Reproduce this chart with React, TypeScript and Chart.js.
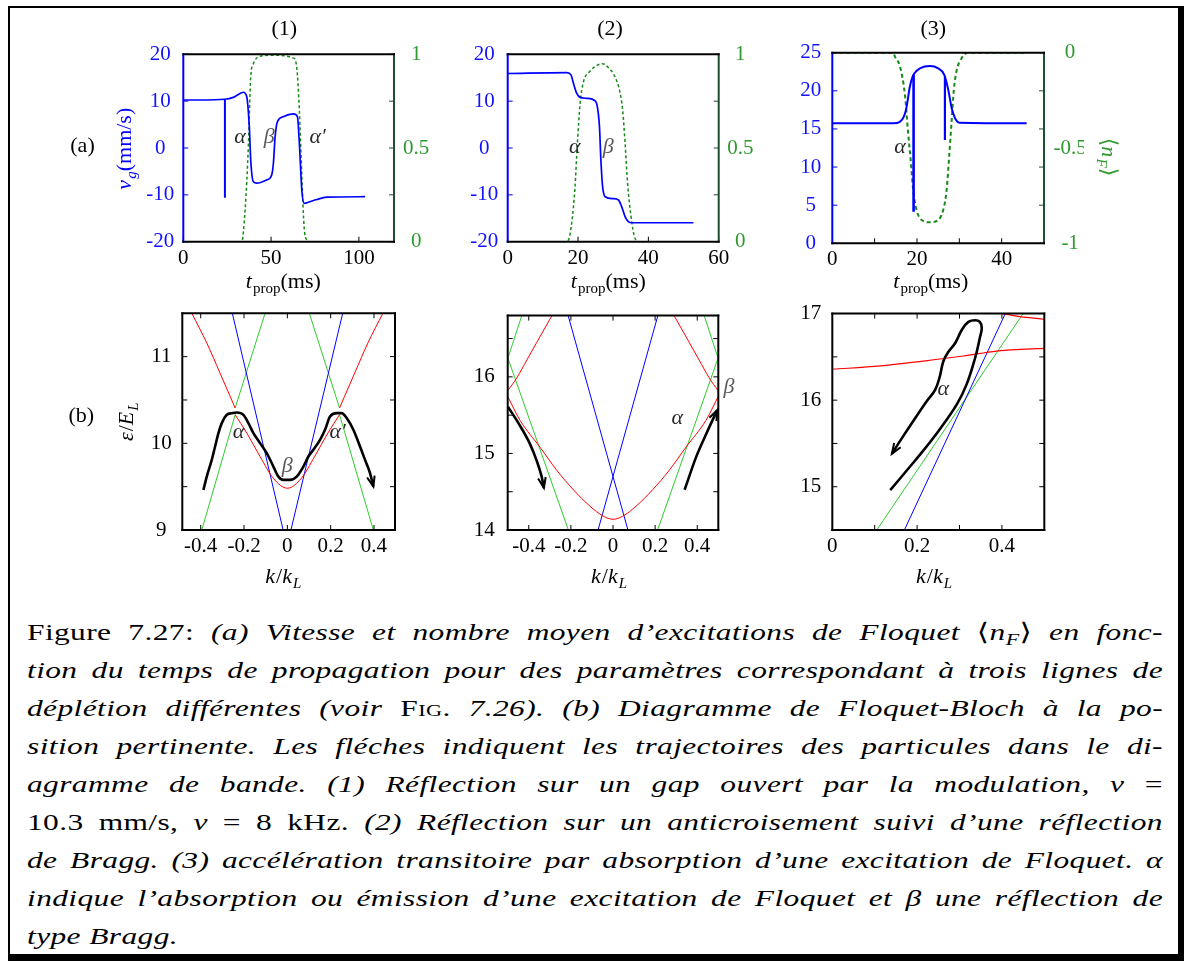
import React, { useEffect, useRef } from "react";
import { Chart, registerables } from "chart.js";

Chart.register(...registerables);

const FONT = '"Liberation Serif", "Times New Roman", "DejaVu Serif", serif';
Chart.defaults.font.family = FONT;

/* ---------------- Row (a): v_g (left axis) and <n_F> (right axis) vs t_prop ---------------- */
// Panel (1)
const a1Time = [0, 10, 23.6, 28.5, 34.2, 36.1, 37.6, 38.4, 39.9, 41.8, 47.5, 50.3, 51.3, 52.3, 53.6, 57, 62.7, 65, 66.1, 67.5, 68.8, 70.3, 76, 81.7, 103.5];
const a1Velocity = [10.25, 10.25, 10.4, 10.8, 11.9, 11, 4.5, -2.6, -7.2, -7.5, -6.8, -5.8, -3.3, 2.4, 5.6, 6.7, 7.3, 6.7, 1.0, -9, -11.8, -11.7, -11, -10.5, -10.4];
const a1SpikeTime = [23.7, 23.7];
const a1SpikeVelocity = [10.4, -10.6];
const a1FloquetTime = [0, 33.3, 35.2, 37.1, 38.4, 39.9, 43.7, 51.3, 62.7, 64.6, 66.1, 67.5, 68.8, 70.3, 72.2, 120];
const a1Floquet = [0, 0, 0.17, 0.52, 0.88, 0.95, 0.99, 0.995, 0.98, 0.93, 0.7, 0.35, 0.08, 0.01, 0, 0];
const a1TimeTicks = [0, 50, 100];
const a1VelocityTicks = [-20, -10, 0, 10, 20];
const a1FloquetTicks = [0, 0.5, 1];
const a1FloquetMarks = [0, 0.25, 0.5, 0.75, 1];

// Panel (2)
const a2Time = [0, 16.8, 18, 18.7, 19.6, 20.6, 22.5, 24.6, 25.5, 26.1, 26.5, 27, 27.7, 30, 31.5, 32.4, 33.4, 34.3, 35.3, 52.8];
const a2Velocity = [15.9, 16.1, 15.6, 13.8, 11.7, 10.8, 10.6, 10.2, 8.8, 4.5, -2.6, -8.3, -10.4, -10.8, -11.1, -12.5, -14.7, -15.7, -15.95, -15.95];
const a2FloquetTime = [0, 16.3, 17.3, 18.2, 19.1, 19.8, 20.6, 21.5, 23.4, 25.3, 26.9, 28.6, 30.5, 31.9, 32.7, 33.4, 34.1, 35.1, 36, 37.2, 60];
const a2Floquet = [0, 0, 0.01, 0.1, 0.28, 0.52, 0.74, 0.85, 0.91, 0.94, 0.95, 0.93, 0.88, 0.8, 0.7, 0.52, 0.31, 0.13, 0.03, 0, 0];
const a2TimeTicks = [0, 20, 40, 60];
const a2VelocityTicks = [-20, -10, 0, 10, 20];
const a2FloquetTicks = [0, 0.5, 1];
const a2FloquetMarks = [0, 0.25, 0.5, 0.75, 1];

// Panel (3)
const a3Time = [0, 14.4, 16, 16.9, 17.55, 18.3, 18.97, 19.4, 20.7, 23.06, 25, 26.45, 27.4, 28.2, 29, 30.1, 45.9];
const a3Velocity = [15.73, 15.73, 15.95, 16.6, 17.9, 20.5, 21.85, 22.3, 22.95, 23.25, 22.95, 22.1, 20.1, 17.7, 16.4, 15.8, 15.73];
const a3Spike1Time = [19.2, 19.2];
const a3Spike1Velocity = [22.1, 4.15];
const a3Spike2Time = [26.6, 26.6];
const a3Spike2Velocity = [21.9, 13.55];
const a3FloquetTime = [0, 14.4, 14.8, 16.0, 17.2, 17.9, 18.5, 19.1, 19.9, 21.1, 23.06, 25.0, 26.2, 27.0, 27.6, 28.2, 28.7, 29.4, 30.5, 32, 46];
const a3Floquet = [0, 0, -0.021, -0.073, -0.23, -0.42, -0.56, -0.72, -0.825, -0.878, -0.89, -0.878, -0.825, -0.72, -0.545, -0.353, -0.196, -0.091, -0.03, 0, 0];
const a3TimeTicks = [0, 20, 40];
const a3TimeMarks = [10, 20, 30, 40];
const a3VelocityTicks = [0, 5, 10, 15, 20, 25];
const a3FloquetTicks = [-1, -0.5, 0];
const a3FloquetMarks = [-1, -0.8, -0.6, -0.4, -0.2, 0];

/* ---------------- Row (b): Floquet-Bloch band diagrams, energy vs k ---------------- */
// Panel (1)
const b1RedUpperLeftK = [-0.441, -0.372, -0.311, -0.264, -0.241];
const b1RedUpperLeftE = [11.5, 11.158, 10.811, 10.541, 10.407];
const b1RedLowerK = [-0.241, -0.187, -0.126, -0.065, 0, 0.065, 0.126, 0.187, 0.241];
const b1RedLowerE = [10.33, 10.118, 9.848, 9.598, 9.482, 9.598, 9.848, 10.118, 10.33];
const b1RedUpperRightK = [0.241, 0.264, 0.311, 0.372, 0.441];
const b1RedUpperRightE = [10.407, 10.541, 10.811, 11.158, 11.5];
const b1GreenLowLeftK = [-0.395, -0.241];
const b1GreenLowLeftE = [9.0, 10.33];
const b1GreenHighLeftK = [-0.241, -0.103];
const b1GreenHighLeftE = [10.407, 11.5];
const b1GreenHighRightK = [0.1015, 0.241];
const b1GreenHighRightE = [11.5, 10.407];
const b1GreenLowRightK = [0.241, 0.397];
const b1GreenLowRightE = [10.33, 9.0];
const b1BlueLeftK = [-0.254, -0.0195];
const b1BlueLeftE = [11.5, 9.0];
const b1BlueRightK = [0.0165, 0.2555];
const b1BlueRightE = [9.0, 11.5];
const b1PathK = [-0.3874, -0.3721, -0.349, -0.3336, -0.3182, -0.3028, -0.2798, -0.2567, -0.2336, -0.2029, -0.1798, -0.1567, -0.1259, -0.0952, -0.0644, -0.0413, -0.0183, 0.0124, 0.0432, 0.074, 0.097, 0.1201, 0.1509, 0.1739, 0.197, 0.2278, 0.2509, 0.274, 0.3047, 0.3355, 0.3586, 0.3817, 0.3971];
const b1PathE = [9.462, 9.616, 9.809, 9.963, 10.117, 10.233, 10.329, 10.348, 10.356, 10.329, 10.233, 10.117, 10.002, 9.886, 9.732, 9.616, 9.578, 9.578, 9.616, 9.732, 9.848, 9.925, 10.04, 10.156, 10.31, 10.348, 10.348, 10.291, 10.156, 9.963, 9.809, 9.655, 9.501];
const b1KTicks = [-0.4, -0.2, 0, 0.2, 0.4];
const b1ETicks = [9, 10, 11];
const b1EMarks = [9.5, 10, 10.5, 11];

// Panel (2)
const b2RedUpperLeftK = [-0.499, -0.456, -0.409, -0.362, -0.29];
const b2RedUpperLeftE = [15.82, 15.99, 16.22, 16.45, 16.8];
const b2RedUpperRightK = [0.29, 0.362, 0.409, 0.456, 0.499];
const b2RedUpperRightE = [16.8, 16.45, 16.22, 15.99, 15.82];
const b2RedLowerK = [-0.499, -0.441, -0.346, -0.267, -0.188, -0.109, -0.046, 0, 0.046, 0.109, 0.188, 0.267, 0.346, 0.441, 0.499];
const b2RedLowerE = [15.74, 15.43, 15.08, 14.78, 14.525, 14.31, 14.18, 14.14, 14.18, 14.31, 14.525, 14.78, 15.08, 15.43, 15.74];
const b2GreenTopLeftK = [-0.433, -0.499];
const b2GreenTopLeftE = [16.8, 16.245];
const b2GreenLeftK = [-0.499, -0.212];
const b2GreenLeftE = [16.245, 14.0];
const b2GreenTopRightK = [0.433, 0.499];
const b2GreenTopRightE = [16.8, 16.245];
const b2GreenRightK = [0.212, 0.499];
const b2GreenRightE = [14.0, 16.245];
const b2BlueLeftK = [-0.213, 0.071];
const b2BlueLeftE = [16.8, 14.0];
const b2BlueRightK = [-0.071, 0.213];
const b2BlueRightE = [14.0, 16.8];
const b2PathLeftK = [-0.499, -0.442, -0.395, -0.363, -0.339, -0.328];
const b2PathLeftE = [15.61, 15.364, 15.128, 14.91, 14.7, 14.55];
const b2PathRightK = [0.34, 0.395, 0.443, 0.495];
const b2PathRightE = [14.525, 14.955, 15.257, 15.566];
const b2KTicks = [-0.4, -0.2, 0, 0.2, 0.4];
const b2ETicks = [14, 15, 16];
const b2EMarks = [14.5, 15, 15.5, 16, 16.5];

// Panel (3)
const b3RedLowerK = [0, 0.113, 0.215, 0.309, 0.388, 0.443, 0.5];
const b3RedLowerE = [16.357, 16.395, 16.452, 16.51, 16.567, 16.586, 16.598];
const b3RedUpperK = [0.402, 0.443, 0.5];
const b3RedUpperE = [17.0, 16.965, 16.935];
const b3BlueK = [0.17, 0.408];
const b3BlueE = [14.5, 17.0];
const b3GreenK = [0.105, 0.45];
const b3GreenE = [14.5, 17.0];
const b3PathK = [0.1366, 0.176, 0.215, 0.254, 0.294, 0.317, 0.337, 0.348, 0.3525, 0.348, 0.337, 0.321, 0.306, 0.29, 0.274, 0.262, 0.2528, 0.2425, 0.223, 0.191, 0.168, 0.1405];
const b3PathE = [14.96, 15.19, 15.42, 15.668, 15.955, 16.185, 16.49, 16.72, 16.835, 16.904, 16.924, 16.904, 16.816, 16.66, 16.56, 16.45, 16.26, 16.12, 15.99, 15.76, 15.59, 15.38];
const b3KTicks = [0, 0.2, 0.4];
const b3KMarks = [0.1, 0.2, 0.3, 0.4];
const b3ETicks = [15, 16, 17];
const b3EMarks = [15, 15.5, 16, 16.5];

/* ---------------- colours ---------------- */
const BLUE = "#0000ff";
const BLUE_TEXT = "#1212ff";
const RED = "#ff0000";
const GREEN_BAND = "#2ecc2e";
const GREEN_DASH = "#168a16";
const GREEN_TEXT = "#2e9a2e";
const GREEN_SPINE = "#1d4d33";
const BLACK = "#000000";
const ALPHA_C = "#2a2a2a";
const BETA_C = "#5a5a5a";

/* ---------------- helpers ---------------- */
const pts = (xs: number[], ys: number[]) => xs.map((x, i) => ({ x, y: ys[i] }));

function curve(xs: number[], ys: number[], color: string, width: number, axis = "y", extra: any = {}) {
  return { data: pts(xs, ys), borderColor: color, borderWidth: width, pointRadius: 0, fill: false, tension: 0, yAxisID: axis, ...extra };
}
const mono = { cubicInterpolationMode: "monotone" };

type Part = { t: string; it?: boolean; sub?: boolean };
type Rich = { parts: Part[]; x: number; y: number; rot?: number; color: string; size?: number };

const tProp: Part[] = [{ t: "t", it: true }, { t: "prop", sub: true }, { t: "(ms)" }];
const kOverKL: Part[] = [{ t: "k", it: true }, { t: "/" }, { t: "k", it: true }, { t: "L", it: true, sub: true }];
const vgLabel: Part[] = [{ t: "v", it: true }, { t: "g", it: true, sub: true }, { t: "(mm/s)" }];
const epsLabel: Part[] = [{ t: "ε", it: true }, { t: "/" }, { t: "E", it: true }, { t: "L", it: true, sub: true }];
const nfLabel: Part[] = [{ t: "⟨" }, { t: "n", it: true }, { t: "F", it: true, sub: true }, { t: "⟩" }];

function drawRich(ctx: CanvasRenderingContext2D, r: Rich, ox: number, oy: number) {
  const size = r.size ?? 22;
  const font = (p: Part) => `${p.it ? "italic " : ""}${p.sub ? Math.round(size * 0.7) : size}px ${FONT}`;
  ctx.save();
  ctx.translate(r.x - ox, r.y - oy);
  if (r.rot) ctx.rotate(r.rot);
  ctx.textBaseline = "alphabetic";
  ctx.textAlign = "left";
  ctx.fillStyle = r.color;
  let total = 0;
  const ws = r.parts.map((p) => {
    ctx.font = font(p);
    const w = ctx.measureText(p.t).width + (p.it && !p.sub ? size * 0.05 : 0);
    total += w;
    return w;
  });
  let cx = -total / 2;
  r.parts.forEach((p, i) => {
    ctx.font = font(p);
    ctx.fillText(p.t, cx, p.sub ? size * 0.22 : 0);
    cx += ws[i];
  });
  ctx.restore();
}

type AxisSpec = { min: number; max: number; labels: number[]; marks: number[]; color: string; padding: number };
type Note = { t: string; x: number; y: number; color: string; axis?: string };
type PanelSpec = {
  box: { left: number; top: number; width: number; height: number };
  area: { L: number; T: number; R: number; B: number };
  x: AxisSpec;
  y: AxisSpec;
  y2?: AxisSpec;
  spines: { left: string; right: string; top: string; bottom: string };
  mirror: boolean;
  datasets: any[];
  arrows: number[];
  notes: Note[];
  texts: Rich[];
};

const fmt = (v: any) => String(Math.round(Number(v) * 1000) / 1000);

function decorPlugin(spec: PanelSpec) {
  return {
    id: "decor",
    afterDatasetsDraw(chart: any) {
      const ctx: CanvasRenderingContext2D = chart.ctx;
      const a = chart.chartArea;
      const sx = chart.scales.x;
      const sy = chart.scales.y;
      const sy2 = chart.scales.y2;
      const TL = 5;
      ctx.save();
      const seg = (x1: number, y1: number, x2: number, y2: number, color: string, w: number) => {
        ctx.beginPath();
        ctx.strokeStyle = color;
        ctx.lineWidth = w;
        ctx.moveTo(x1, y1);
        ctx.lineTo(x2, y2);
        ctx.stroke();
      };
      spec.x.marks.forEach((v) => {
        const p = sx.getPixelForValue(v);
        seg(p, a.bottom, p, a.bottom - TL, spec.spines.bottom, 1);
        if (spec.mirror) seg(p, a.top, p, a.top + TL, spec.spines.top, 1);
      });
      spec.y.marks.forEach((v) => {
        const p = sy.getPixelForValue(v);
        seg(a.left, p, a.left + TL, p, spec.spines.left, 1);
        if (spec.mirror) seg(a.right, p, a.right - TL, p, spec.spines.right, 1);
      });
      if (spec.y2 && sy2) {
        spec.y2.marks.forEach((v) => {
          const p = sy2.getPixelForValue(v);
          seg(a.right, p, a.right - TL, p, spec.spines.right, 1);
        });
      }
      const w = 2;
      seg(a.left, a.top - w / 2, a.left, a.bottom + w / 2, spec.spines.left, w);
      seg(a.right, a.top - w / 2, a.right, a.bottom + w / 2, spec.spines.right, w);
      seg(a.left - w / 2, a.top, a.right + w / 2, a.top, spec.spines.top, w);
      seg(a.left - w / 2, a.bottom, a.right + w / 2, a.bottom, spec.spines.bottom, w);

      spec.arrows.forEach((i) => {
        const d = chart.getDatasetMeta(i).data;
        const p1 = d[d.length - 1];
        const p0 = d[d.length - 2];
        const ang = Math.atan2(p1.y - p0.y, p1.x - p0.x);
        const L = 11;
        const hw = 0.36;
        ctx.beginPath();
        ctx.strokeStyle = BLACK;
        ctx.lineWidth = 2;
        ctx.moveTo(p1.x - L * Math.cos(ang - hw), p1.y - L * Math.sin(ang - hw));
        ctx.lineTo(p1.x, p1.y);
        ctx.lineTo(p1.x - L * Math.cos(ang + hw), p1.y - L * Math.sin(ang + hw));
        ctx.stroke();
      });

      spec.notes.forEach((n) => {
        const sc = n.axis === "y2" ? sy2 : sy;
        const px = sx.getPixelForValue(n.x);
        const py = sc.getPixelForValue(n.y);
        ctx.font = `italic 22px ${FONT}`;
        ctx.fillStyle = n.color;
        ctx.textAlign = "center";
        ctx.textBaseline = "alphabetic";
        ctx.fillText(n.t, px, py + 5);
      });

      spec.texts.forEach((r) => drawRich(ctx, r, spec.box.left, spec.box.top));
      ctx.restore();
    },
  };
}

function buildConfig(spec: PanelSpec): any {
  const { box, area } = spec;
  const WL = 40;
  const WR = 40;
  const HB = 30;
  const tickFont = { family: FONT, size: 21 };
  const yAxis = (ax: AxisSpec, position: string) => ({
    type: "linear",
    position,
    min: ax.min,
    max: ax.max,
    afterBuildTicks: (s: any) => {
      s.ticks = ax.labels.map((v) => ({ value: v }));
    },
    afterFit: (s: any) => {
      s.width = position === "left" ? WL : WR;
    },
    grid: { display: false, drawTicks: false },
    border: { display: false },
    ticks: { color: ax.color, padding: ax.padding, crossAlign: "center", autoSkip: false, font: tickFont, callback: fmt },
  });
  const scales: any = {
    x: {
      type: "linear",
      position: "bottom",
      min: spec.x.min,
      max: spec.x.max,
      afterBuildTicks: (s: any) => {
        s.ticks = spec.x.labels.map((v) => ({ value: v }));
      },
      afterFit: (s: any) => {
        s.height = HB;
      },
      grid: { display: false, drawTicks: false },
      border: { display: false },
      ticks: { color: spec.x.color, padding: spec.x.padding, maxRotation: 0, minRotation: 0, autoSkip: false, font: tickFont, callback: fmt },
    },
    y: yAxis(spec.y, "left"),
  };
  if (spec.y2) scales.y2 = yAxis(spec.y2, "right");
  const padding = {
    left: area.L - box.left - WL,
    right: box.left + box.width - area.R - (spec.y2 ? WR : 0),
    top: area.T - box.top,
    bottom: box.top + box.height - area.B - HB,
  };
  return {
    type: "line",
    data: { datasets: spec.datasets },
    options: {
      animation: false,
      responsive: false,
      maintainAspectRatio: false,
      events: [],
      layout: { padding },
      plugins: { legend: { display: false }, tooltip: { enabled: false }, title: { display: false } },
      scales,
    },
    plugins: [decorPlugin(spec)],
  };
}

/* ---------------- panel specifications ---------------- */
const dash = (d: number[]) => ({ borderDash: d, ...mono });

const panels: PanelSpec[] = [
  {
    box: { left: 40, top: 0, width: 405, height: 300 },
    area: { L: 183.3, T: 54.3, R: 394, B: 241.7 },
    x: { min: 0, max: 120, labels: a1TimeTicks, marks: a1TimeTicks, color: BLACK, padding: 4 },
    y: { min: -20, max: 20, labels: a1VelocityTicks, marks: a1VelocityTicks, color: BLUE_TEXT, padding: 9 },
    y2: { min: 0, max: 1, labels: a1FloquetTicks, marks: a1FloquetMarks, color: GREEN_TEXT, padding: 9 },
    spines: { left: BLUE, right: GREEN_SPINE, top: BLACK, bottom: BLACK },
    mirror: false,
    datasets: [
      curve(a1Time, a1Velocity, BLUE, 1.7, "y", mono),
      curve(a1SpikeTime, a1SpikeVelocity, BLUE, 2, "y"),
      curve(a1FloquetTime, a1Floquet, GREEN_DASH, 1.5, "y2", dash([3, 2.5])),
    ],
    arrows: [],
    notes: [
      { t: "α", x: 32.3, y: 2.06, color: ALPHA_C },
      { t: "β", x: 49, y: 2.06, color: BETA_C },
      { t: "α′", x: 76.5, y: 2.06, color: ALPHA_C },
    ],
    texts: [
      { parts: [{ t: "(1)" }], x: 284.3, y: 35, color: BLACK },
      { parts: tProp, x: 283.3, y: 288, color: BLACK },
      { parts: vgLabel, x: 131, y: 148.7, rot: -Math.PI / 2, color: BLUE },
      { parts: [{ t: "(a)" }], x: 82.5, y: 151.7, color: BLACK },
    ],
  },
  {
    box: { left: 445, top: 0, width: 325, height: 300 },
    area: { L: 507.7, T: 54.3, R: 718.7, B: 241.7 },
    x: { min: 0, max: 60, labels: a2TimeTicks, marks: a2TimeTicks, color: BLACK, padding: 4 },
    y: { min: -20, max: 20, labels: a2VelocityTicks, marks: a2VelocityTicks, color: BLUE_TEXT, padding: 9.5 },
    y2: { min: 0, max: 1, labels: a2FloquetTicks, marks: a2FloquetMarks, color: GREEN_TEXT, padding: 8.5 },
    spines: { left: BLUE, right: GREEN_SPINE, top: BLACK, bottom: BLACK },
    mirror: false,
    datasets: [
      curve(a2Time, a2Velocity, BLUE, 1.7, "y", mono),
      curve(a2FloquetTime, a2Floquet, GREEN_DASH, 1.5, "y2", dash([3, 2.5])),
    ],
    arrows: [],
    notes: [
      { t: "α", x: 19.1, y: -0.08, color: ALPHA_C },
      { t: "β", x: 28.6, y: -0.08, color: BETA_C },
    ],
    texts: [
      { parts: [{ t: "(2)" }], x: 610, y: 35, color: BLACK },
      { parts: tProp, x: 608.3, y: 288, color: BLACK },
    ],
  },
  {
    box: { left: 770, top: 0, width: 380, height: 300 },
    area: { L: 832.3, T: 52.7, R: 1044, B: 243.3 },
    x: { min: 0, max: 50, labels: a3TimeTicks, marks: a3TimeMarks, color: BLACK, padding: 3.5 },
    y: { min: 0, max: 25, labels: a3VelocityTicks, marks: a3VelocityTicks, color: BLUE_TEXT, padding: 11 },
    y2: { min: -1, max: 0, labels: a3FloquetTicks, marks: a3FloquetMarks, color: GREEN_TEXT, padding: 9.5 },
    spines: { left: BLUE, right: GREEN_SPINE, top: BLACK, bottom: BLACK },
    mirror: false,
    datasets: [
      curve(a3Time, a3Velocity, BLUE, 2, "y", mono),
      curve(a3Spike1Time, a3Spike1Velocity, BLUE, 2.6, "y"),
      curve(a3Spike2Time, a3Spike2Velocity, BLUE, 2.2, "y"),
      curve(a3FloquetTime, a3Floquet, GREEN_DASH, 2, "y2", dash([4, 3])),
    ],
    arrows: [],
    notes: [{ t: "α", x: 16, y: 12.46, color: ALPHA_C }],
    texts: [
      { parts: [{ t: "(3)" }], x: 933.3, y: 35, color: BLACK },
      { parts: tProp, x: 930.7, y: 288, color: BLACK },
      { parts: nfLabel, x: 1102, y: 157, rot: Math.PI / 2, color: GREEN_TEXT },
    ],
  },
  {
    box: { left: 40, top: 290, width: 405, height: 310 },
    area: { L: 182.3, T: 313.3, R: 395, B: 530 },
    x: { min: -0.485, max: 0.497, labels: b1KTicks, marks: b1KTicks, color: BLACK, padding: 4 },
    y: { min: 9, max: 11.5, labels: b1ETicks, marks: b1EMarks, color: BLACK, padding: 10.5 },
    spines: { left: BLACK, right: BLACK, top: BLACK, bottom: BLACK },
    mirror: true,
    datasets: [
      curve(b1PathK, b1PathE, BLACK, 2.6, "y", mono),
      curve(b1RedUpperLeftK, b1RedUpperLeftE, RED, 1, "y", mono),
      curve(b1RedLowerK, b1RedLowerE, RED, 1, "y", mono),
      curve(b1RedUpperRightK, b1RedUpperRightE, RED, 1, "y", mono),
      curve(b1BlueLeftK, b1BlueLeftE, BLUE, 1),
      curve(b1BlueRightK, b1BlueRightE, BLUE, 1),
      curve(b1GreenLowLeftK, b1GreenLowLeftE, GREEN_BAND, 1),
      curve(b1GreenHighLeftK, b1GreenHighLeftE, GREEN_BAND, 1),
      curve(b1GreenHighRightK, b1GreenHighRightE, GREEN_BAND, 1),
      curve(b1GreenLowRightK, b1GreenLowRightE, GREEN_BAND, 1),
    ],
    arrows: [0],
    notes: [
      { t: "α", x: -0.226, y: 10.117, color: ALPHA_C },
      { t: "β", x: 0.0, y: 9.73, color: BETA_C },
      { t: "α′", x: 0.232, y: 10.12, color: ALPHA_C },
    ],
    texts: [
      { parts: kOverKL, x: 283.3, y: 583, color: BLACK },
      { parts: epsLabel, x: 133, y: 421.7, rot: -Math.PI / 2, color: BLACK },
      { parts: [{ t: "(b)" }], x: 81.3, y: 421.7, color: BLACK },
    ],
  },
  {
    box: { left: 445, top: 290, width: 325, height: 310 },
    area: { L: 507.7, T: 313.3, R: 718.3, B: 530 },
    x: { min: -0.5, max: 0.5, labels: b2KTicks, marks: b2KTicks, color: BLACK, padding: 4 },
    y: { min: 14, max: 16.8, labels: b2ETicks, marks: b2EMarks, color: BLACK, padding: 13 },
    spines: { left: BLACK, right: BLACK, top: BLACK, bottom: BLACK },
    mirror: true,
    datasets: [
      curve(b2PathLeftK, b2PathLeftE, BLACK, 2.6, "y", mono),
      curve(b2PathRightK, b2PathRightE, BLACK, 2.6, "y", mono),
      curve(b2RedUpperLeftK, b2RedUpperLeftE, RED, 1, "y", mono),
      curve(b2RedUpperRightK, b2RedUpperRightE, RED, 1, "y", mono),
      curve(b2RedLowerK, b2RedLowerE, RED, 1, "y", mono),
      curve(b2BlueLeftK, b2BlueLeftE, BLUE, 1),
      curve(b2BlueRightK, b2BlueRightE, BLUE, 1),
      curve(b2GreenTopLeftK, b2GreenTopLeftE, GREEN_BAND, 1),
      curve(b2GreenLeftK, b2GreenLeftE, GREEN_BAND, 1),
      curve(b2GreenTopRightK, b2GreenTopRightE, GREEN_BAND, 1),
      curve(b2GreenRightK, b2GreenRightE, GREEN_BAND, 1),
    ],
    arrows: [0, 1],
    notes: [
      { t: "α", x: 0.305, y: 15.45, color: ALPHA_C },
      { t: "β", x: 0.551, y: 15.86, color: BETA_C },
    ],
    texts: [{ parts: kOverKL, x: 609, y: 583, color: BLACK }],
  },
  {
    box: { left: 770, top: 290, width: 380, height: 310 },
    area: { L: 832.3, T: 312.3, R: 1044.3, B: 530 },
    x: { min: 0, max: 0.5, labels: b3KTicks, marks: b3KMarks, color: BLACK, padding: 4 },
    y: { min: 14.5, max: 17, labels: b3ETicks, marks: b3EMarks, color: BLACK, padding: 11 },
    spines: { left: BLACK, right: BLACK, top: BLACK, bottom: BLACK },
    mirror: true,
    datasets: [
      curve(b3PathK, b3PathE, BLACK, 2.6, "y", { tension: 0.4 }),
      curve(b3RedLowerK, b3RedLowerE, RED, 1.2, "y", mono),
      curve(b3RedUpperK, b3RedUpperE, RED, 1.2, "y", mono),
      curve(b3BlueK, b3BlueE, BLUE, 1),
      curve(b3GreenK, b3GreenE, GREEN_BAND, 1),
    ],
    arrows: [0],
    notes: [{ t: "α", x: 0.262, y: 16.12, color: ALPHA_C }],
    texts: [{ parts: kOverKL, x: 934, y: 583, color: BLACK }],
  },
];

/* ---------------- caption ---------------- */
type Seg = { t: string; s?: "it" | "rm" | "sc" | "sub" };
const rm = (t: string): Seg => ({ t, s: "rm" });
const it = (t: string): Seg => ({ t, s: "it" });
const sc = (t: string): Seg => ({ t, s: "sc" });
const sub = (t: string): Seg => ({ t, s: "sub" });

const captionLines: Seg[][] = [
  [rm("Figure 7.27: "), it("(a) Vitesse et nombre moyen d’excitations de Floquet "), rm("⟨"), it("n"), sub("F"), rm("⟩"), it(" en fonc-")],
  [it("tion du temps de propagation pour des paramètres correspondant à trois lignes de")],
  [it("déplétion différentes (voir "), sc("Fig."), it(" 7.26).  (b) Diagramme de Floquet-Bloch à la po-")],
  [it("sition pertinente.  Les fléches indiquent les trajectoires des particules dans le di-")],
  [it("agramme de bande.  (1) Réflection sur un gap ouvert par la modulation, "), it("v"), rm(" =")],
  [rm("10.3 mm/s, "), it("ν"), rm(" = 8 kHz. "), it(" (2) Réflection sur un anticroisement suivi d’une réflection")],
  [it("de Bragg. (3) accélération transitoire par absorption d’une excitation de Floquet. α")],
  [it("indique l’absorption ou émission d’une excitation de Floquet et β une réflection de")],
  [it("type Bragg.")],
];

function segStyle(s?: string): React.CSSProperties {
  if (s === "it") return { fontStyle: "italic" };
  if (s === "sc") return { fontStyle: "normal", fontVariant: "small-caps" };
  if (s === "sub") return { fontStyle: "italic", fontSize: "0.7em", position: "relative", top: "0.28em", lineHeight: 0 };
  return { fontStyle: "normal" };
}

function Caption() {
  const scale = 1.31;
  const width = 1136;
  return (
    <div
      style={{
        position: "absolute",
        left: 27,
        top: 613,
        width: width / scale,
        transform: `scaleX(${scale})`,
        transformOrigin: "left top",
        fontFamily: FONT,
        fontSize: 24,
        lineHeight: "38px",
        letterSpacing: "0.3px",
        color: "#000",
      }}
    >
      {captionLines.map((line, i) => (
        <div
          key={i}
          style={{
            textAlign: i === captionLines.length - 1 ? "left" : "justify",
            textAlignLast: i === captionLines.length - 1 ? "left" : "justify",
            height: 38,
          }}
        >
          {line.map((sg, j) => (
            <span key={j} style={segStyle(sg.s)}>
              {sg.t}
            </span>
          ))}
        </div>
      ))}
    </div>
  );
}

/* ---------------- components ---------------- */
function Panel({ spec }: { spec: PanelSpec }) {
  const ref = useRef<HTMLCanvasElement | null>(null);
  useEffect(() => {
    if (!ref.current) return;
    const chart = new Chart(ref.current, buildConfig(spec));
    return () => chart.destroy();
  }, [spec]);
  return (
    <canvas
      ref={ref}
      width={spec.box.width}
      height={spec.box.height}
      style={{ position: "absolute", left: spec.box.left, top: spec.box.top, width: spec.box.width, height: spec.box.height }}
    />
  );
}

export default function App() {
  return (
    <div style={{ position: "absolute", left: 0, top: 0, width: 1184, height: 961, background: "#fff", overflow: "hidden" }}>
      <div
        style={{
          position: "absolute",
          left: 8,
          top: 6,
          width: 1176,
          height: 955,
          boxSizing: "border-box",
          borderStyle: "solid",
          borderColor: "#000",
          borderWidth: "2px 6px 7px 2px",
        }}
      />
      {panels.map((p, i) => (
        <Panel key={i} spec={p} />
      ))}
      <Caption />
    </div>
  );
}
